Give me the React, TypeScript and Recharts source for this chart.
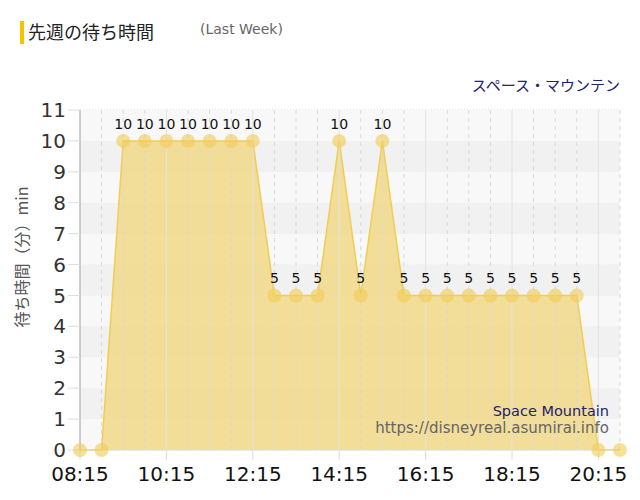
import { Area, AreaChart, CartesianGrid, LabelList, ReferenceArea, ReferenceLine, XAxis, YAxis } from 'recharts';

const times = [
  '08:15', '08:45', '09:15', '09:45', '10:15', '10:45', '11:15', '11:45', '12:15', '12:45',
  '13:15', '13:45', '14:15', '14:45', '15:15', '15:45', '16:15', '16:45', '17:15', '17:45',
  '18:15', '18:45', '19:15', '19:45', '20:15', '20:45',
];
const waits = [0, 0, 10, 10, 10, 10, 10, 10, 10, 5, 5, 5, 10, 5, 10, 5, 5, 5, 5, 5, 5, 5, 5, 5, 0, 0];
const yTicks = [0, 1, 2, 3, 4, 5, 6, 7, 8, 9, 10, 11];
const xTicks = ['08:15', '10:15', '12:15', '14:15', '16:15', '18:15', '20:15'];

const FONT = '"DejaVu Sans", Verdana, sans-serif';
const JP = '"Noto Sans CJK JP", sans-serif';
const GOLD = '#f2cd55';

const data = times.map((time, i) => ({ time, wait: waits[i] }));

const renderLabel = (props: any) => {
  const { x, y, value } = props;
  if (!value) return null;
  return (
    <text x={x} y={y - 12} textAnchor="middle" fontSize={14} fontFamily={FONT} fill="#111">
      {value}
    </text>
  );
};

export default function App() {
  return (
    <div style={{ position: 'absolute', left: 0, top: 0, width: 640, height: 500, background: '#fff', fontFamily: FONT }}>
      <div style={{ position: 'absolute', left: 20, top: 21, width: 4, height: 23, background: '#f5c400' }} />
      <div style={{ position: 'absolute', left: 28, top: 18, fontSize: 18, color: '#222', fontFamily: JP }}>
        先週の待ち時間
      </div>
      <div style={{ position: 'absolute', left: 200, top: 21, fontSize: 14, color: '#666' }}>(Last Week)</div>
      <div style={{ position: 'absolute', right: 20, top: 74, fontSize: 15, color: '#22226e', fontFamily: JP }}>
        スペース・マウンテン
      </div>

      <AreaChart width={640} height={500} data={data} margin={{ top: 110, right: 20, left: 0, bottom: 20 }}>
        {yTicks.slice(1).map((t) => (
          <ReferenceArea
            key={t}
            y1={t - 1}
            y2={t}
            fill={t % 2 === 0 ? '#f1f1f1' : '#f8f8f8'}
            fillOpacity={1}
            stroke="none"
          />
        ))}
        <CartesianGrid vertical={false} stroke="#c8c8c8" strokeDasharray="1 2" />
        {times.map((t) => (
          <ReferenceLine
            key={t}
            x={t}
            stroke={xTicks.includes(t) ? '#e2e2e2' : '#d8d8d8'}
            strokeDasharray={xTicks.includes(t) ? undefined : '4 4'}
          />
        ))}
        <XAxis
          dataKey="time"
          ticks={xTicks}
          interval={0}
          tick={{ fontSize: 20, fill: '#111', fontFamily: FONT }}
          tickLine={{ stroke: '#ddd' }}
          tickSize={10}
          tickMargin={7}
          axisLine={{ stroke: '#ddd' }}
        />
        <YAxis
          domain={[0, 11]}
          ticks={yTicks}
          interval={0}
          width={80}
          tick={{ fontSize: 20, fill: '#333', fontFamily: FONT }}
          tickLine={{ stroke: '#ddd' }}
          tickSize={12}
          tickMargin={2}
          axisLine={{ stroke: '#aaa' }}
          label={{
            value: '待ち時間（分）min',
            angle: -90,
            position: 'insideLeft',
            offset: 22,
            dy: -23,
            style: { fontSize: 16, fill: '#555', fontFamily: JP, textAnchor: 'middle' },
          }}
        />
        <Area
          type="linear"
          dataKey="wait"
          stroke={GOLD}
          strokeWidth={1.5}
          fill="#f0d47a"
          fillOpacity={0.75}
          dot={{ r: 7, fill: GOLD, fillOpacity: 0.6, stroke: 'none' }}
          activeDot={false}
          isAnimationActive={false}
        >
          <LabelList dataKey="wait" content={renderLabel} />
        </Area>
      </AreaChart>

      <div style={{ position: 'absolute', right: 31, top: 403, fontSize: 14.5, color: '#22226e', textAlign: 'right' }}>
        Space Mountain
      </div>
      <div style={{ position: 'absolute', right: 31, top: 419, fontSize: 15, color: '#666', textAlign: 'right' }}>
        https://disneyreal.asumirai.info
      </div>
    </div>
  );
}
